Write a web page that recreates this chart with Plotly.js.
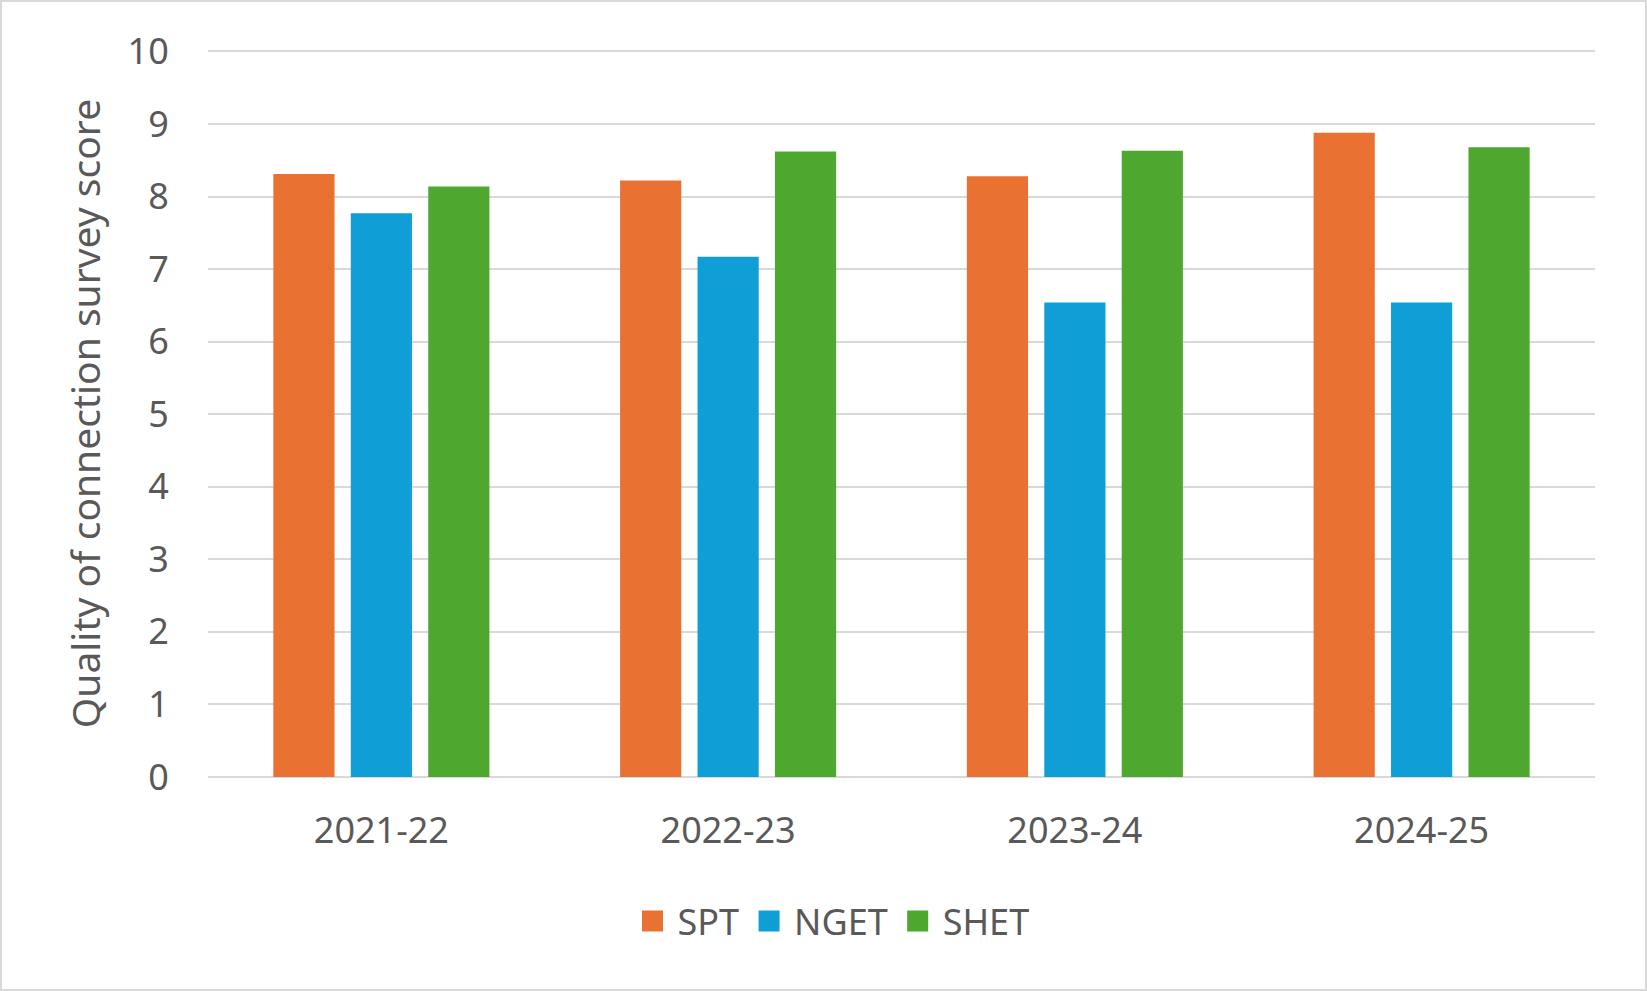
<!DOCTYPE html>
<html>
<head>
<meta charset="utf-8">
<script src="https://cdn.plot.ly/plotly-3.0.1.min.js"></script>
<style>
html,body{margin:0;padding:0;background:#fff;}
#chart{width:1647px;height:991px;}
</style>
</head>
<body>
<div id="chart"></div>
<script>
const categories = ["2021-22", "2022-23", "2023-24", "2024-25"];
const sptValues  = [8.31, 8.22, 8.28, 8.88];
const ngetValues = [7.77, 7.17, 6.54, 6.54];
const shetValues = [8.14, 8.62, 8.63, 8.68];
const seriesNames = ["SPT", "NGET", "SHET"];
const seriesColors = ["#E97132", "#0F9ED5", "#4EA72E"];
const yTicks = [0,1,2,3,4,5,6,7,8,9,10];

const W = 1647, H = 991;
const yMax = 10.02;
const ml = 208, mr = 52, mt = 50, mb = 214;
const pw = W - ml - mr, ph = H - mt - mb;
const fontFam = '"Noto Sans", "Open Sans", Arial, sans-serif';
const txt = '#595959';

const seriesValues = [sptValues, ngetValues, shetValues];
const barTraces = seriesValues.map((vals, i) => ({
  type: 'bar',
  name: seriesNames[i],
  legendgroup: seriesNames[i],
  showlegend: false,
  x: categories,
  y: vals,
  marker: {color: seriesColors[i], line: {width: 0}},
  hoverinfo: 'x+y+name'
}));
// legend entries (square swatches), no plotted points
const legendTraces = seriesNames.map((nm, i) => ({
  type: 'scatter', mode: 'markers',
  name: nm, legendgroup: nm, showlegend: true,
  x: [null], y: [null],
  marker: {symbol: 'square', size: 16, color: seriesColors[i], line: {width: 5, color: seriesColors[i]}},
  hoverinfo: 'skip'
}));

const layout = {
  width: W, height: H,
  margin: {l: ml, r: mr, t: mt, b: mb, autoexpand: false},
  paper_bgcolor: '#fff', plot_bgcolor: '#fff',
  font: {family: fontFam, size: 36, color: txt},
  barmode: 'group',
  bargap: 0.33,
  bargroupgap: 0.21,
  showlegend: true,
  legend: {
    orientation: 'h', x: (831 - ml) / pw, xanchor: 'center',
    y: (mt + ph - 921) / ph, yanchor: 'middle',
    font: {family: fontFam, size: 36, color: txt},
    itemwidth: 40, itemsizing: 'trace', traceorder: 'normal'
  },
  xaxis: {
    type: 'category',
    categoryarray: categories, categoryorder: 'array',
    showgrid: false, zeroline: false, showline: false,
    ticks: 'outside', ticklen: 22, tickcolor: 'rgba(0,0,0,0)',
    tickfont: {family: fontFam, size: 36, color: txt},
    fixedrange: true
  },
  yaxis: {
    range: [0, yMax],
    tickvals: yTicks,
    ticktext: yTicks.map(String),
    showgrid: true, gridcolor: '#d9d9d9', gridwidth: 2,
    zeroline: true, zerolinecolor: '#d9d9d9', zerolinewidth: 2,
    showline: false,
    ticks: 'outside', ticklen: 31, tickcolor: 'rgba(0,0,0,0)',
    tickfont: {family: fontFam, size: 36, color: txt},
    title: {text: 'Quality of connection survey score', font: {family: fontFam, size: 39, color: txt}, standoff: 14},
    fixedrange: true
  },
  shapes: [{
    type: 'rect', xref: 'paper', yref: 'paper',
    x0: (1 - ml) / pw, x1: (W - 1 - ml) / pw,
    y0: -(H - 1 - mt - ph) / ph, y1: 1 + (mt - 1) / ph,
    line: {color: '#d9d9d9', width: 2}, fillcolor: 'rgba(0,0,0,0)', layer: 'below'
  }]
};

Plotly.newPlot('chart', barTraces.concat(legendTraces), layout, {displayModeBar: false, staticPlot: true});
</script>
</body>
</html>
